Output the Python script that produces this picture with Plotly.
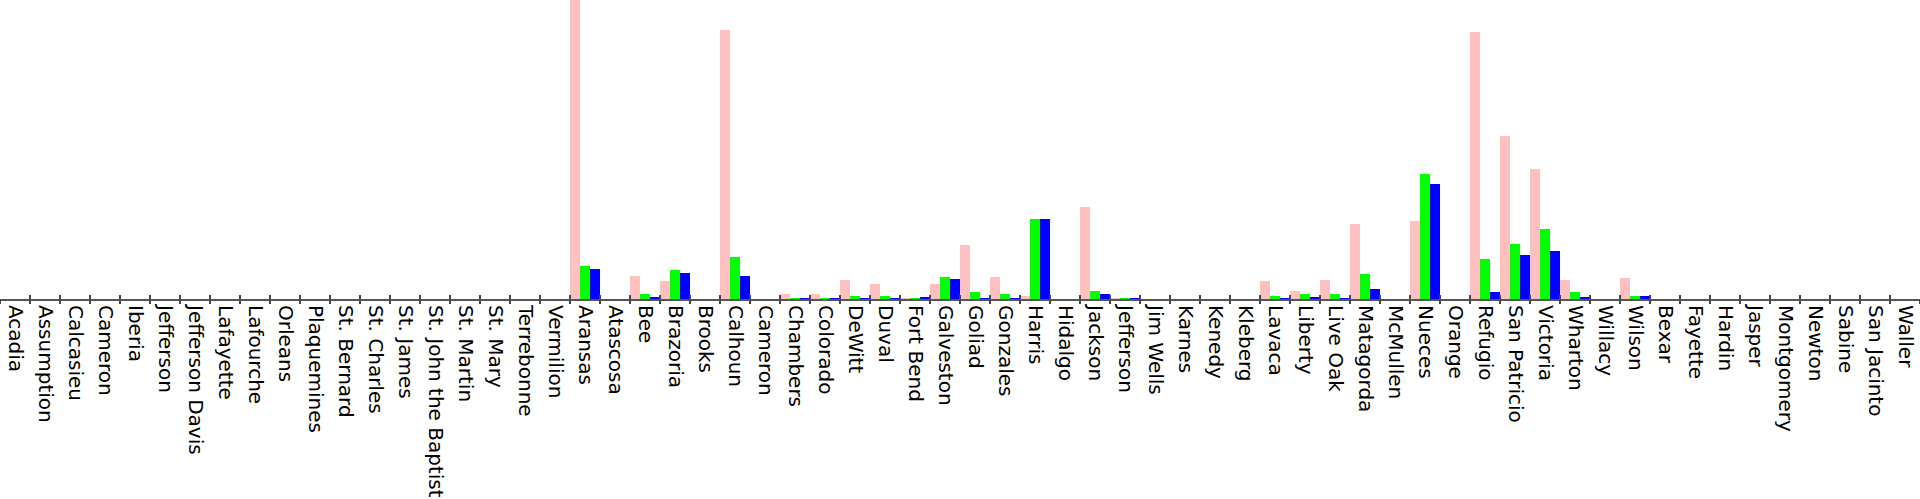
import plotly.graph_objects as go

# Parishes / counties along the x axis (Louisiana, then Texas, then the rest)
counties = [
    "Acadia", "Assumption", "Calcasieu", "Cameron", "Iberia", "Jefferson",
    "Jefferson Davis", "Lafayette", "Lafourche", "Orleans", "Plaquemines",
    "St. Bernard", "St. Charles", "St. James", "St. John the Baptist",
    "St. Martin", "St. Mary", "Terrebonne", "Vermilion",
    "Aransas", "Atascosa", "Bee", "Brazoria", "Brooks", "Calhoun", "Cameron",
    "Chambers", "Colorado", "DeWitt", "Duval", "Fort Bend", "Galveston",
    "Goliad", "Gonzales", "Harris", "Hidalgo", "Jackson", "Jefferson",
    "Jim Wells", "Karnes", "Kenedy", "Kleberg", "Lavaca", "Liberty",
    "Live Oak", "Matagorda", "McMullen", "Nueces", "Orange", "Refugio",
    "San Patricio", "Victoria", "Wharton", "Willacy", "Wilson",
    "Bexar", "Fayette", "Hardin", "Jasper", "Montgomery", "Newton", "Sabine",
    "San Jacinto", "Waller",
]

# Three series per county
pink_vals = [0] * 19 + [
    330, 0, 23, 18, 0, 269, 0, 5, 5, 19, 15, 0.3, 15, 54, 22, 3, 0, 92, 0.3,
    0, 0, 0, 0, 18, 8, 19, 75, 0, 78, 0, 267, 163, 130, 19, 0, 21,
] + [0] * 9
green_vals = [0] * 19 + [
    33, 0, 5, 29, 0, 42, 0, 1, 1, 3, 3, 1, 22, 7, 5, 80, 0, 8, 1,
    0, 0, 0, 0, 3, 5, 5, 25, 0, 125, 0, 40, 55, 70, 7, 0, 3,
] + [0] * 9
blue_vals = [0] * 19 + [
    30, 0, 2, 26, 0, 23, 0, 0.4, 0.4, 1, 0.4, 2, 20, 1, 1, 80, 0, 5, 0.5,
    0, 0, 0, 0, 1, 2, 0.5, 10, 0, 115, 0, 7, 44, 48, 2, 0, 3,
] + [0] * 9

positions = list(range(len(counties)))

fig = go.Figure()
for vals, color in [(pink_vals, "#FFC0C0"), (green_vals, "#00FF00"), (blue_vals, "#0000FF")]:
    fig.add_trace(go.Bar(x=positions, y=vals, marker=dict(color=color, line=dict(width=0)),
                         hoverinfo="skip"))

# empty traces so the two tick-only overlay axes get drawn
for ax in ["x2", "x3"]:
    fig.add_trace(go.Scatter(x=[], y=[], xaxis=ax, yaxis="y", hoverinfo="skip"))

n = len(counties)
lo, hi = -0.5, n - 0.5
tick_style = dict(range=[lo, hi], tickmode="linear", tick0=lo, dtick=1,
                  ticklen=4, tickwidth=2, tickcolor="#444444",
                  showticklabels=False, showgrid=False, zeroline=False,
                  showline=False, overlaying="x", anchor="y", side="bottom")

fig.update_layout(
    width=1920, height=499,
    margin=dict(l=0, r=0, t=0, b=200, pad=0),
    barmode="group", bargap=0, bargroupgap=0,
    showlegend=False,
    plot_bgcolor="white", paper_bgcolor="white",
    font=dict(family="DejaVu Sans", size=20, color="black"),
    xaxis=dict(
        range=[lo, hi], tickmode="array", tickvals=positions, ticktext=counties,
        tickangle=90, ticks="", showgrid=False, zeroline=False,
        showline=True, linecolor="#555555", linewidth=2,
    ),
    # boundary ticks that cross the axis line (one set outside, one inside)
    xaxis2=dict(ticks="outside", **tick_style),
    xaxis3=dict(ticks="inside", **tick_style),
    yaxis=dict(range=[0, 299], visible=False),
)

# page body has a default margin; drop it so the figure sits at the top-left corner
fig.write_html("out.html", config={"displayModeBar": False},
               post_script="document.body.style.margin='0';")
